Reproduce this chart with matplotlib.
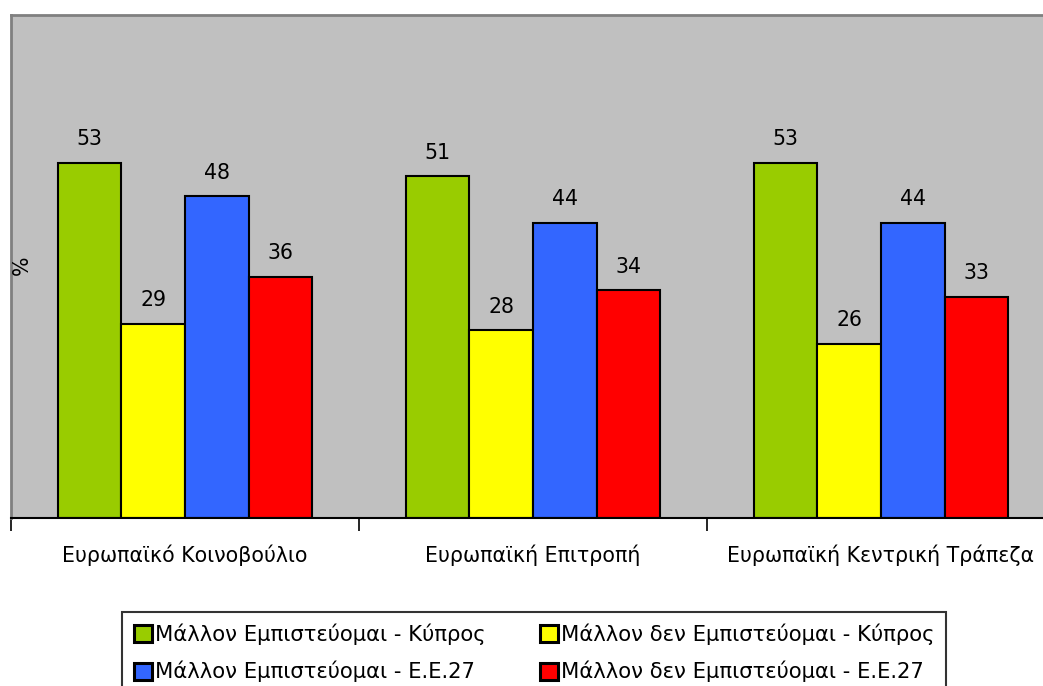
import matplotlib
matplotlib.use("Agg")
import matplotlib.pyplot as plt
import numpy as np

categories = ["Ευρωπαϊκό Κοινοβούλιο", "Ευρωπαϊκή Επιτροπή", "Ευρωπαϊκή Κεντρική Τράπεζα"]
series_names = ["Μάλλον Εμπιστεύομαι - Κύπρος", "Μάλλον δεν Εμπιστεύομαι - Κύπρος",
                "Μάλλον Εμπιστεύομαι - Ε.Ε.27", "Μάλλον δεν Εμπιστεύομαι - Ε.Ε.27"]
trust_cy = [53, 51, 53]
distrust_cy = [29, 28, 26]
trust_eu = [48, 44, 44]
distrust_eu = [36, 34, 33]
colors = ["#99CC00", "#FFFF00", "#3366FF", "#FF0000"]

plt.rcParams['font.family'] = ['DejaVu Sans']
FS = 14.8

W, H = 1043, 686
fig = plt.figure(figsize=(W/100, H/100), dpi=100)
ax = fig.add_axes([11/W, (H-518)/H, (1055-11)/W, (518-15)/H])
ax.set_facecolor("#C0C0C0")

x = np.arange(len(categories))
w = 0.1825
series = [trust_cy, distrust_cy, trust_eu, distrust_eu]
handles = []
for i, vals in enumerate(series):
    off = (i - 1.5) * w
    b = ax.bar(x + off, vals, w, color=colors[i], edgecolor="black", linewidth=1.5,
               label=series_names[i])
    handles.append(b)
    for xi, v in zip(x + off, vals):
        ax.text(xi, v + 2.0, str(v), ha="center", va="bottom", fontsize=FS)

ax.set_xlim(-0.5, 2.5)
ax.set_ylim(0, 75)
ax.set_yticks([])
ax.set_xticks([-0.5, 0.5, 1.5, 2.5])
ax.set_xticklabels([])
ax.set_xticks(x, minor=True)
ax.set_xticklabels(categories, minor=True, fontsize=FS)
ax.tick_params(axis="x", which="major", length=9, width=1.2, direction="out")
ax.tick_params(axis="x", which="minor", length=0, pad=19)

for s in ["top", "left"]:
    ax.spines[s].set_color("#808080")
    ax.spines[s].set_linewidth(2)
ax.spines["right"].set_visible(False)
ax.spines["bottom"].set_color("black")
ax.spines["bottom"].set_linewidth(1.5)

fig.text(22/W, 1 - 265/H, "%", rotation=90, ha="center", va="center", fontsize=FS)

order = [0, 2, 1, 3]
leg = fig.legend(handles=[handles[i] for i in order], labels=[series_names[i] for i in order],
                 ncol=2, loc="upper left",
                 bbox_to_anchor=(122/W, 1 - 612/H), frameon=True, fancybox=False,
                 fontsize=15.2, handlelength=0.85, handleheight=0.85, handletextpad=0.15,
                 columnspacing=2.6, borderpad=0.55, labelspacing=0.75, borderaxespad=0)
leg.get_frame().set_edgecolor("black")
leg.get_frame().set_linewidth(1.5)
for p in leg.get_patches():
    p.set_linewidth(2.2)

fig.savefig("out.png", dpi=100)
